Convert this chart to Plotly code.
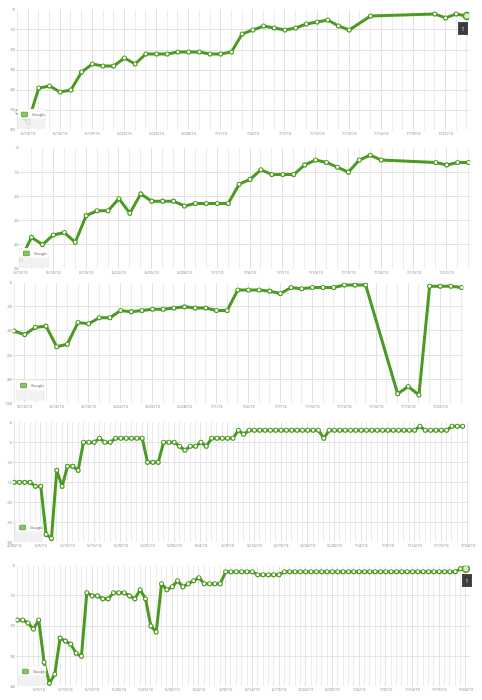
import plotly.graph_objects as go
import pandas as pd

W, H = 482, 700

# ---------------- data ----------------
p1_dates = ["2013-06-12", "2013-06-13", "2013-06-14", "2013-06-15", "2013-06-16", "2013-06-17",
            "2013-06-18", "2013-06-19", "2013-06-20", "2013-06-21", "2013-06-22", "2013-06-23",
            "2013-06-24", "2013-06-25", "2013-06-26", "2013-06-27", "2013-06-28", "2013-06-29",
            "2013-06-30", "2013-07-01", "2013-07-02", "2013-07-03", "2013-07-04", "2013-07-05",
            "2013-07-06", "2013-07-07", "2013-07-08", "2013-07-09", "2013-07-10", "2013-07-11",
            "2013-07-12", "2013-07-13", "2013-07-15", "2013-07-21", "2013-07-22", "2013-07-23",
            "2013-07-24"]
p1_rank = [51, 56, 39, 38, 41, 40, 31, 27, 28, 28, 24, 27, 22, 22, 22, 21, 21, 21, 22, 22, 21,
           12, 10, 8, 9, 10, 9, 7, 6, 5, 8, 10, 3, 2, 4, 2, 3]

p2_dates = ["2013-06-13", "2013-06-14", "2013-06-15", "2013-06-16", "2013-06-17", "2013-06-18",
            "2013-06-19", "2013-06-20", "2013-06-21", "2013-06-22", "2013-06-23", "2013-06-24",
            "2013-06-25", "2013-06-26", "2013-06-27", "2013-06-28", "2013-06-29", "2013-06-30",
            "2013-07-01", "2013-07-02", "2013-07-03", "2013-07-04", "2013-07-05", "2013-07-06",
            "2013-07-07", "2013-07-08", "2013-07-09", "2013-07-10", "2013-07-11", "2013-07-12",
            "2013-07-13", "2013-07-14", "2013-07-15", "2013-07-16", "2013-07-21", "2013-07-22",
            "2013-07-23", "2013-07-24"]
p2_rank = [46, 37, 40, 36, 35, 39, 28, 26, 26, 21, 27, 19, 22, 22, 22, 24, 23, 23, 23, 23,
           15, 13, 9, 11, 11, 11, 7, 5, 6, 8, 10, 5, 3, 5, 6, 7, 6, 6]

p3_dates = ["2013-06-12", "2013-06-13", "2013-06-14", "2013-06-15", "2013-06-16", "2013-06-17",
            "2013-06-18", "2013-06-19", "2013-06-20", "2013-06-21", "2013-06-22", "2013-06-23",
            "2013-06-24", "2013-06-25", "2013-06-26", "2013-06-27", "2013-06-28", "2013-06-29",
            "2013-06-30", "2013-07-01", "2013-07-02", "2013-07-03", "2013-07-04", "2013-07-05",
            "2013-07-06", "2013-07-07", "2013-07-08", "2013-07-09", "2013-07-10", "2013-07-11",
            "2013-07-12", "2013-07-13", "2013-07-14", "2013-07-15", "2013-07-18", "2013-07-19",
            "2013-07-20", "2013-07-21", "2013-07-22", "2013-07-23", "2013-07-24"]
p3_rank = [40, 43, 37, 36, 53, 51, 33, 34, 29, 29, 23, 24, 23, 22, 22, 21, 20, 21, 21, 23, 23,
           6, 6, 6, 7, 9, 4, 5, 4, 4, 4, 2, 2, 2, 92, 86, 93, 3, 3, 3, 4]

p4_start = "2013-04-30"
p4_rank = ([15, 15, 15, 15, 16, 16, 28, 29, 12, 16, 11, 11, 12, 5, 5, 5, 4, 5, 5,
            4, 4, 4, 4, 4, 4, 10, 10, 10, 5, 5, 5, 6, 7, 6, 6, 5, 6, 4, 4, 4, 4, 4, 2, 3]
           + [2] * 14 + [4] + [2] * 17 + [1] + [2] * 5 + [1, 1, 1])

p5_start = "2013-05-01"
p5_rank = ([18, 18, 19, 21, 18, 32, 39, 36, 24, 25, 26, 29, 30, 9, 10, 10, 11, 11, 9, 9, 9,
            10, 11, 8, 11, 20, 22, 6, 8, 7, 5, 7, 6, 5, 4, 6, 6, 6, 6, 2, 2, 2, 2, 2, 2]
           + [3] * 5 + [2] * 33 + [1, 1])

p4_dates = [d.strftime("%Y-%m-%d") for d in pd.date_range(p4_start, periods=len(p4_rank))]
p5_dates = [d.strftime("%Y-%m-%d") for d in pd.date_range(p5_start, periods=len(p5_rank))]

series_name = "Google"

# ---------------- layout per panel ----------------
panels = [
    dict(x=p1_dates, y=p1_rank, X=(10, 476), Y=(7, 128), ymax=60, ydt=10,
         ref=("2013-06-13", 22.7), ppd=11.0, dt=3, tick0="2013-06-13",
         leg=(12, 107, 40, 126), hl=True, tip=(470, 25.5)),
    dict(x=p2_dates, y=p2_rank, X=(14, 477), Y=(146, 267.7), ymax=50, ydt=10,
         ref=("2013-06-13", 15.0), ppd=11.23, dt=3, tick0="2013-06-13",
         leg=(14, 247, 44, 266), hl=False, tip=None),
    dict(x=p3_dates, y=p3_rank, X=(7, 470), Y=(281.7, 403.3), ymax=100, ydt=20,
         ref=("2013-06-12", 8.3), ppd=10.95, dt=3, tick0="2013-06-13",
         leg=(11, 380, 39, 400), hl=False, tip=None),
    dict(x=p4_dates, y=p4_rank, X=(7, 476), Y=(422.3, 543.3), ymax=30, ydt=5,
         ref=("2013-04-30", 8.3), ppd=5.488, dt=5, tick0="2013-05-05",
         leg=(10, 523, 37, 542), hl=False, tip=None),
    dict(x=p5_dates, y=p5_rank, X=(10, 477), Y=(566.7, 688.3), ymax=40, ydt=10,
         ref=("2013-05-01", 11.7), ppd=5.488, dt=5, tick0="2013-05-05",
         leg=(13, 668, 41, 687), hl=True, tip=(473.5, 581.5)),
]

GREEN = "#4c9a22"
GRID = "#e2e2e2"
MINOR = "#ececec"
TXT = "#7a7a7a"
FONT = "Open Sans"
DAY = 86400000

fig = go.Figure()
shapes = []
annots = []
layout_axes = {}

for i, p in enumerate(panels, start=1):
    xs = "" if i == 1 else str(i)
    xa, ya = "x" + xs, "y" + xs
    ref = pd.Timestamp(p["ref"][0])
    rx = p["ref"][1]
    left = ref + pd.Timedelta(days=(p["X"][0] - rx) / p["ppd"])
    right = ref + pd.Timedelta(days=(p["X"][1] - rx) / p["ppd"])

    fig.add_trace(go.Scatter(
        x=p["x"], y=p["y"], mode="lines+markers", name=series_name,
        line=dict(color=GREEN, width=3),
        marker=dict(size=4, color="white", line=dict(color=GREEN, width=1.1)),
        xaxis=xa, yaxis=ya, showlegend=False, hoverinfo="skip"))
    if p["hl"]:
        fig.add_trace(go.Scatter(
            x=p["x"][-1:], y=p["y"][-1:], mode="markers",
            marker=dict(size=7, color="#d6ecc4", line=dict(color=GREEN, width=1.5)),
            xaxis=xa, yaxis=ya, showlegend=False, hoverinfo="skip"))

    layout_axes["xaxis" + xs] = dict(
        type="date", domain=[p["X"][0] / W, p["X"][1] / W],
        range=[left.isoformat(), right.isoformat()], anchor=ya,
        tickformat="%-m/%-d/%y", tick0=p["tick0"], dtick=p["dt"] * DAY,
        tickfont=dict(size=4, color=TXT, family=FONT), ticks="",
        showgrid=True, gridcolor=GRID, gridwidth=1, zeroline=False, showline=False,
        minor=dict(dtick=DAY, tick0=p["tick0"], showgrid=True, gridcolor=MINOR, gridwidth=1),
        fixedrange=True)
    layout_axes["yaxis" + xs] = dict(
        domain=[1 - p["Y"][1] / H, 1 - p["Y"][0] / H], range=[p["ymax"], 0],
        anchor=xa, tick0=0, dtick=p["ydt"],
        tickfont=dict(size=4, color=TXT, family=FONT), ticks="",
        showgrid=True, gridcolor=GRID, gridwidth=1, zeroline=False, showline=False,
        fixedrange=True)

    # legend box drawn as shapes + text
    lx0, ly0, lx1, ly1 = p["leg"]
    mid = ly0 + (ly1 - ly0) * 0.5
    shapes.append(dict(type="rect", xref="paper", yref="paper",
                       x0=lx0 / W, x1=lx1 / W, y0=1 - ly1 / H, y1=1 - ly0 / H,
                       fillcolor="rgba(240,240,240,0.85)", line=dict(color="#e0e0e0", width=0.5)))
    shapes.append(dict(type="rect", xref="paper", yref="paper",
                       x0=lx0 / W, x1=lx1 / W, y0=1 - mid / H, y1=1 - ly0 / H,
                       fillcolor="rgba(255,255,255,0.9)", line=dict(width=0)))
    sq_y = ly0 + 3
    shapes.append(dict(type="rect", xref="paper", yref="paper",
                       x0=(lx0 + 4) / W, x1=(lx0 + 10) / W, y0=1 - (sq_y + 4.5) / H, y1=1 - sq_y / H,
                       fillcolor="#8cc46a", line=dict(color="#5c9e36", width=0.8)))
    annots.append(dict(xref="paper", yref="paper", x=(lx0 + 13) / W, y=1 - (sq_y + 2.3) / H,
                       text=series_name, showarrow=False, xanchor="left", yanchor="middle",
                       font=dict(size=4, color="#555", family=FONT)))
    if p["tip"]:
        annots.append(dict(xref="paper", yref="paper", x=p["tip"][0] / W, y=1 - p["tip"][1] / H,
                           text="1", showarrow=False, xanchor="center", yanchor="middle",
                           font=dict(size=5, color="white", family=FONT),
                           bgcolor="#3b3b3b", bordercolor="#2a2a2a", borderwidth=0.5, borderpad=3))

fig.update_layout(
    width=W, height=H, margin=dict(l=0, r=0, t=0, b=0),
    paper_bgcolor="white", plot_bgcolor="white",
    shapes=shapes, annotations=annots, showlegend=False,
    **layout_axes)

fig.write_html("out.html", config={"displayModeBar": False, "staticPlot": True},
               post_script="document.body.style.margin='0px';document.body.style.overflow='hidden';")
